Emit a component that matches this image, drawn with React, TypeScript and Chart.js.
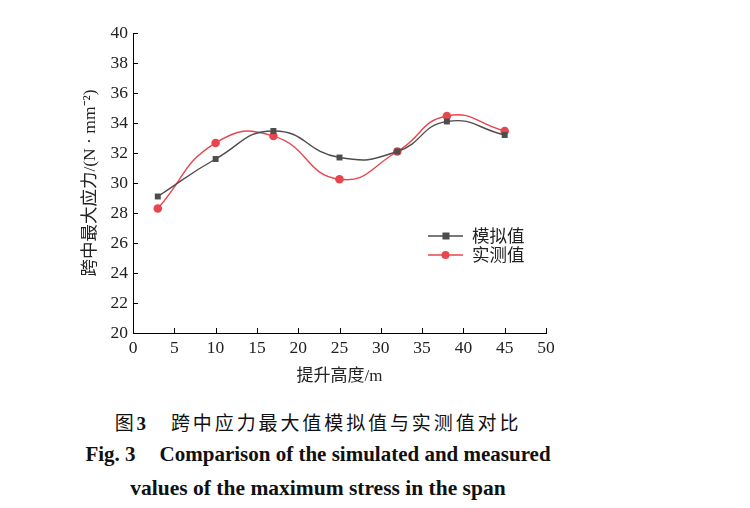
import React, { useEffect, useRef } from "react";
import Chart from "chart.js/auto";

const heights = [3, 10, 17, 25, 32, 38, 45];
const simulated = [29.1, 31.6, 33.47, 31.7, 32.1, 34.1, 33.2];
const measured = [28.3, 32.67, 33.13, 30.25, 32.1, 34.47, 33.47];
const xTicks = [0, 5, 10, 15, 20, 25, 30, 35, 40, 45, 50];
const yTicks = [20, 22, 24, 26, 28, 30, 32, 34, 36, 38, 40];
const seriesNames = ["模拟值", "实测值"];
const seriesColors = ["#4d4d4d", "#e8464e"];

const SERIF = "'Liberation Serif', 'Noto Sans CJK SC', serif";

const innerTicks = {
  id: "innerTicks",
  afterDraw(chart: any) {
    const { ctx, chartArea } = chart;
    const xs = chart.scales.x;
    const ys = chart.scales.y;
    ctx.save();
    ctx.strokeStyle = "#000";
    ctx.lineWidth = 1;
    ctx.beginPath();
    xTicks.forEach((v) => {
      const px = Math.round(xs.getPixelForValue(v)) + 0.5;
      ctx.moveTo(px, chartArea.bottom);
      ctx.lineTo(px, chartArea.bottom - 5);
    });
    yTicks.forEach((v) => {
      const py = Math.round(ys.getPixelForValue(v)) + 0.5;
      ctx.moveTo(chartArea.left, py);
      ctx.lineTo(chartArea.left + 5, py);
    });
    ctx.stroke();
    ctx.restore();
  },
};

const customLegend = {
  id: "customLegend",
  afterDraw(chart: any) {
    const { ctx, chartArea } = chart;
    const x0 = chartArea.left + 295;
    const y0 = chartArea.top + 203;
    ctx.save();
    seriesNames.forEach((name, i) => {
      const y = y0 + i * 19;
      const c = seriesColors[i];
      ctx.strokeStyle = c;
      ctx.lineWidth = 1.3;
      ctx.beginPath();
      ctx.moveTo(x0, y);
      ctx.lineTo(x0 + 35, y);
      ctx.stroke();
      ctx.fillStyle = c;
      if (i === 0) {
        ctx.fillRect(x0 + 14.5, y - 3.5, 7, 7);
      } else {
        ctx.beginPath();
        ctx.arc(x0 + 17.5, y, 4, 0, Math.PI * 2);
        ctx.fill();
      }
      ctx.fillStyle = "#222";
      ctx.font = "17.5px 'Noto Sans CJK SC', serif";
      ctx.textBaseline = "middle";
      ctx.textAlign = "left";
      ctx.fillText(name, x0 + 44, y - 1);
    });
    ctx.restore();
  },
};

export default function App() {
  const ref = useRef<HTMLCanvasElement | null>(null);

  useEffect(() => {
    document.body.style.margin = "0";
    if (!ref.current) return;
    Chart.defaults.font.family = SERIF;
    const chart = new Chart(ref.current, {
      type: "line",
      data: {
        datasets: [
          {
            label: seriesNames[0],
            data: heights.map((h, i) => ({ x: h, y: simulated[i] })),
            borderColor: seriesColors[0],
            backgroundColor: seriesColors[0],
            borderWidth: 1.4,
            pointStyle: "rect",
            pointRadius: 4.2,
            pointBorderWidth: 0,
            tension: 0.5,
            fill: false,
          },
          {
            label: seriesNames[1],
            data: heights.map((h, i) => ({ x: h, y: measured[i] })),
            borderColor: seriesColors[1],
            backgroundColor: seriesColors[1],
            borderWidth: 1.4,
            pointStyle: "circle",
            pointRadius: 4.3,
            pointBorderWidth: 0,
            tension: 0.5,
            fill: false,
          },
        ],
      },
      options: {
        animation: false,
        responsive: true,
        maintainAspectRatio: false,
        layout: { padding: { left: 0, top: 33, right: 204, bottom: 0 } },
        plugins: {
          legend: { display: false },
          tooltip: { enabled: false },
        },
        scales: {
          x: {
            type: "linear",
            min: 0,
            max: 50,
            afterBuildTicks: (s: any) => {
              s.ticks = xTicks.map((v) => ({ value: v }));
            },
            afterFit: (s: any) => {
              s.height = 67;
            },
            grid: { display: false, drawTicks: false },
            border: { display: true, color: "#000", width: 1 },
            ticks: {
              padding: 5,
              color: "#222",
              font: { family: SERIF, size: 17.5 },
              maxRotation: 0,
              autoSkip: false,
            },
            title: {
              display: true,
              text: "提升高度/m",
              color: "#222",
              font: { family: SERIF, size: 17, lineHeight: 1.2 },
              padding: { top: 0, bottom: 13 },
            },
          },
          y: {
            type: "linear",
            min: 20,
            max: 40,
            afterBuildTicks: (s: any) => {
              s.ticks = yTicks.map((v) => ({ value: v }));
            },
            afterFit: (s: any) => {
              s.width = 133;
            },
            grid: { display: false, drawTicks: false },
            border: { display: true, color: "#000", width: 1 },
            ticks: {
              padding: 5,
              color: "#222",
              font: { family: SERIF, size: 17.5 },
              autoSkip: false,
            },
            title: {
              display: true,
              text: "跨中最大应力/(N · mm⁻²)",
              color: "#222",
              font: { family: SERIF, size: 17.5, lineHeight: 1.2 },
              padding: { top: 80, bottom: 0 },
            },
          },
        },
      },
      plugins: [innerTicks, customLegend],
    });
    return () => chart.destroy();
  }, []);

  const captionBase: React.CSSProperties = {
    position: "absolute",
    left: 318,
    transform: "translate(-50%, -50%)",
    whiteSpace: "nowrap",
    color: "#111",
  };

  return (
    <div style={{ position: "relative", width: 750, height: 508, background: "#fff" }}>
      <div style={{ position: "absolute", left: 0, top: 0, width: 750, height: 400 }}>
        <canvas ref={ref} />
      </div>
      <div
        style={{
          ...captionBase,
          top: 421,
          fontFamily: "'Liberation Serif', 'Noto Sans CJK SC', serif",
          fontSize: 19,
          letterSpacing: 2.9,
        }}
      >
        图<b>3</b>
        <span style={{ display: "inline-block", width: 22 }} />
        跨中应力最大值模拟值与实测值对比
      </div>
      <div
        style={{
          ...captionBase,
          top: 454,
          fontFamily: "'Liberation Serif', serif",
          fontWeight: "bold",
          fontSize: 21,
        }}
      >
        Fig. 3<span style={{ display: "inline-block", width: 24 }} />
        Comparison of the simulated and measured
      </div>
      <div
        style={{
          ...captionBase,
          top: 488,
          fontFamily: "'Liberation Serif', serif",
          fontWeight: "bold",
          fontSize: 21.5,
        }}
      >
        values of the maximum stress in the span
      </div>
    </div>
  );
}
